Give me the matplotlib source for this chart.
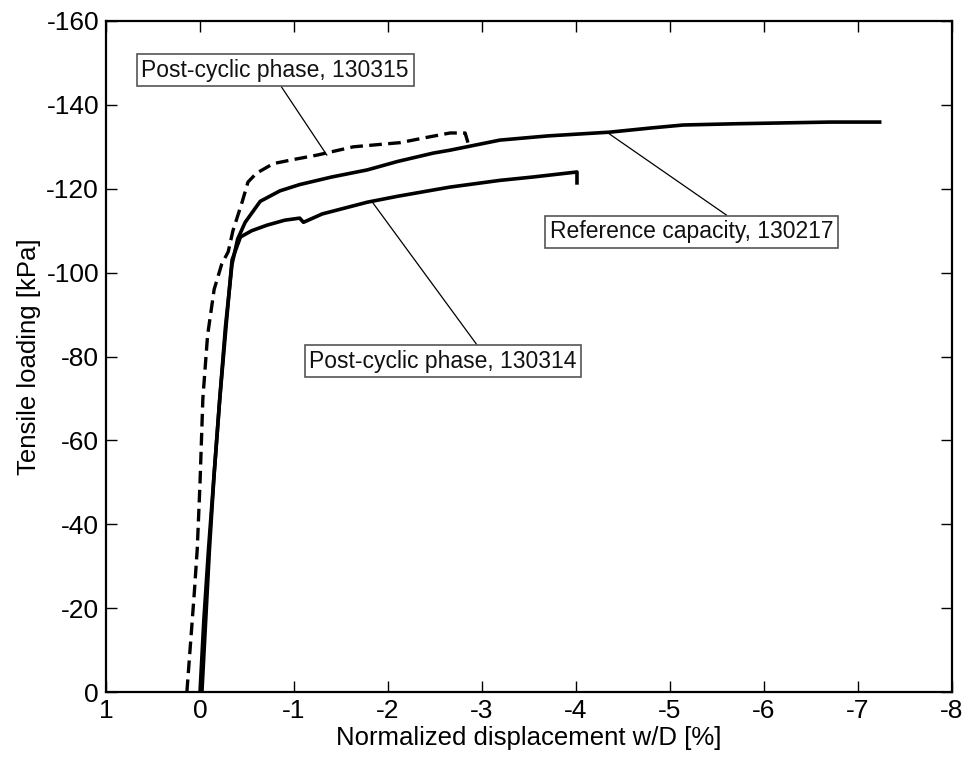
import matplotlib
matplotlib.use("Agg")
import matplotlib.pyplot as plt

plt.rcParams['font.family'] = ['Liberation Sans', 'DejaVu Sans']
plt.rcParams['axes.unicode_minus'] = False

# post-cyclic phase 130315 (dashed)
x_130315 = [0.14, 0.10, 0.06, 0.03, 0.0, -0.03, -0.08, -0.15, -0.23, -0.30, -0.35, -0.45,
            -0.51, -0.60, -0.78, -1.0, -1.24, -1.63, -2.13, -2.4, -2.66, -2.82, -2.85]
y_130315 = [0, -12, -24, -34, -50, -70, -85, -96, -102, -105, -110, -117,
            -121.6, -123.7, -126, -127, -128, -130, -131, -132.2, -133.3, -133.3, -131]

# reference capacity 130217
x_130217 = [-0.02, -0.06, -0.10, -0.15, -0.21, -0.27, -0.34, -0.40, -0.48, -0.64, -0.85,
            -1.06, -1.4, -1.78, -2.1, -2.48, -2.66, -3.19, -3.7, -4.36, -4.8, -5.14,
            -5.7, -6.2, -6.7, -7.23]
y_130217 = [0, -17, -34, -52, -70, -87, -102, -108, -112, -117, -119.5,
            -121, -122.8, -124.5, -126.5, -128.5, -129.2, -131.6, -132.6, -133.5, -134.5, -135.2,
            -135.5, -135.7, -135.9, -135.9]

# post-cyclic phase 130314
x_130314 = [0.0, -0.04, -0.09, -0.15, -0.21, -0.28, -0.34, -0.43, -0.55, -0.71, -0.9,
            -1.06, -1.1, -1.3, -1.78, -2.1, -2.48, -2.66, -3.19, -3.54, -4.01, -4.01]
y_130314 = [0, -17, -34, -52, -70, -88, -103, -108.5, -110, -111.3, -112.5,
            -113, -112, -114, -116.8, -118.2, -119.7, -120.4, -122, -122.8, -124, -121.4]

x_ticks = [1, 0, -1, -2, -3, -4, -5, -6, -7, -8]
y_ticks = [0, -20, -40, -60, -80, -100, -120, -140, -160]

fig = plt.figure(figsize=(9.64, 7.58), dpi=100)
ax = fig.add_axes([0.110, 0.087, 0.8776, 0.8853])

ax.plot(x_130315, y_130315, color='black', lw=2.4, ls=(0, (3.8, 1.9)))
ax.plot(x_130217, y_130217, color='black', lw=2.6)
ax.plot(x_130314, y_130314, color='black', lw=2.6)

ax.set_xlim(1, -8)
ax.set_ylim(0, -160)
ax.set_xticks(x_ticks)
ax.set_yticks(y_ticks)
ax.tick_params(direction='in', length=8, width=1, labelsize=19, top=True, right=True, pad=5)
for s in ax.spines.values():
    s.set_linewidth(1.6)

ax.set_xlabel('Normalized displacement w/D [%]', fontsize=18.5, labelpad=2)
ax.set_ylabel('Tensile loading [kPa]', fontsize=18.5, labelpad=4)

box = dict(boxstyle='square,pad=0.2', fc='white', ec='#555555', lw=1.2)

ax.annotate('Post-cyclic phase, 130315', xy=(-1.35, -128), xytext=(-0.80, -148.3),
            ha='center', va='center', fontsize=16.5, color='#111111', bbox=box,
            arrowprops=dict(arrowstyle='-', color='black', lw=0.9, relpos=(0.51, 0),
                            shrinkA=0, shrinkB=0))
ax.annotate('Reference capacity, 130217', xy=(-4.34, -133.3), xytext=(-5.23, -109.7),
            ha='center', va='center', fontsize=16.5, color='#111111', bbox=box,
            arrowprops=dict(arrowstyle='-', color='black', lw=0.9, relpos=(0.65, 1),
                            shrinkA=0, shrinkB=0))
ax.annotate('Post-cyclic phase, 130314', xy=(-1.84, -116.6), xytext=(-2.585, -78.9),
            ha='center', va='center', fontsize=16.5, color='#111111', bbox=box,
            arrowprops=dict(arrowstyle='-', color='black', lw=0.9, relpos=(0.64, 1),
                            shrinkA=0, shrinkB=0))

fig.savefig('out.png', dpi=100)
